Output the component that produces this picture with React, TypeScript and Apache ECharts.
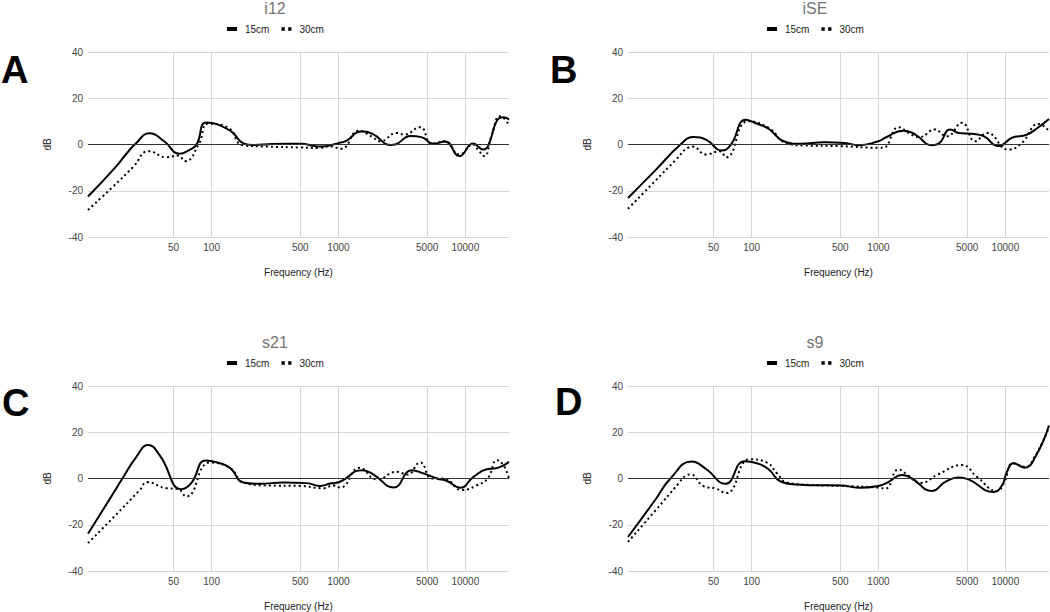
import React, { useEffect, useRef } from "react";
import * as echarts from "echarts";

// ---------- data ----------
const PANEL_TITLES = ["i12", "iSE", "s21", "s9"];
const PANEL_LETTERS = ["A", "B", "C", "D"];
const SERIES_NAMES = ["15cm", "30cm"];
const X_TICKS_HZ = [50, 100, 500, 1000, 5000, 10000];
const X_MIN_HZ = 10.6;
const X_MAX_HZ = 22100;
const Y_MIN = -40;
const Y_MAX = 40;
const Y_STEP = 20;

// i12
const i12_15_hz = [10.6, 16.7, 21.3, 24.8, 32.6, 42, 56, 66, 76, 91, 140, 178, 213, 300, 400, 500, 716, 1000, 1160, 1500, 1850, 2600, 2800, 3700, 4500, 5620, 6920, 9000, 11500, 13900, 15200, 17700, 19800, 22100];
const i12_15_db = [-22.5, -11, -4, 0, 4.9, 1.5, -4, -2.5, 0, 9.5, 6, 0.5, -0.2, 0.2, 0.3, 0.3, -0.9, 0.6, 1.7, 5.6, 4.6, -0.2, 0, 3.7, 3.2, 0.3, 1.3, -5, 0.4, -2.2, -0.4, 10.2, 11.8, 10.9];
const i12_30_hz = [10.6, 16.7, 24, 32, 44, 54, 62, 79, 94, 133, 178, 275, 500, 700, 850, 1050, 1450, 1850, 2130, 2890, 3300, 4400, 5440, 6900, 9000, 11500, 12700, 14100, 16200, 18800, 22100];
const i12_30_db = [-28.3, -18.2, -9.8, -2.9, -5.5, -4.8, -7.2, 0, 9, 7.5, -0.4, -0.9, -1.3, -1.5, -0.8, -1.8, 6, 3.2, 1.4, 5, 4.3, 7.5, 0.3, 1.4, -4.3, 0, -2.6, -5, 4.3, 12.2, 8.6];

// iSE
const iSE_15_hz = [10.6, 17.4, 27.5, 35, 44, 58, 68, 90, 108, 136, 179, 244, 374, 541, 692, 1000, 1130, 1575, 1950, 2640, 3000, 3680, 4280, 5460, 6740, 8850, 11300, 14800, 18300, 22100];
const iSE_15_db = [-23.1, -11.2, 0, 3.2, 2, -2.6, -0.4, 10.7, 9.2, 6.8, 1.4, 0.3, 1, 0.7, -0.3, 1.4, 2.9, 6, 4.3, -0.3, 0.5, 6.5, 5, 4.6, 3.6, -0.7, 2.9, 4.3, 7.5, 11];
const iSE_30_hz = [10.6, 17.4, 25, 32, 34, 44, 56, 63, 94, 136, 188, 255, 500, 1000, 1090, 1440, 1730, 2100, 2800, 3200, 3470, 4550, 5800, 7170, 10600, 13500, 18300, 22100];
const iSE_30_db = [-27.8, -15.7, -6.9, -1.2, -0.9, -4.3, -2.9, -5.5, 10.1, 7.2, 0.6, -0.4, -0.7, -1.4, -1.4, 7.5, 5, 3.2, 6.5, 4.3, 3.6, 9.4, 1.4, 5, -2.2, 0.7, 8.9, 5.8];

// s21
const s21_15_hz = [10.6, 14.8, 19.8, 25.6, 31.6, 39, 58, 69, 90, 116, 140, 178, 241, 368, 562, 716, 860, 1030, 1530, 1890, 2720, 3790, 4690, 5980, 7170, 9120, 11600, 14800, 16700, 18900, 22100];
const s21_15_db = [-23.9, -11.2, 0, 9.5, 14.5, 10, -4.6, -2, 7.8, 6.6, 4.5, -1.7, -2.3, -1.7, -2, -3.2, -2.2, -1.4, 3.6, 1.7, -3.9, 3.6, 2.2, 0, -1.1, -4, 0.7, 4, 4.3, 5, 7.2];
const s21_30_hz = [10.6, 16.7, 27.2, 31, 44, 54, 63, 97, 140, 178, 272, 500, 760, 912, 1030, 1470, 2010, 2890, 3470, 4410, 5460, 6750, 9420, 12400, 15000, 17800, 20000, 22100];
const s21_30_db = [-27.9, -17, -4.9, -1.6, -4.2, -4.5, -7.8, 6.9, 4.5, -1.7, -3, -3.2, -4.2, -3, -3.9, 4.6, -0.4, 2.9, 1.7, 6.9, 0, 0, -5, -2.9, 0, 7.9, 5.7, 0];

// s9
const s9_15_hz = [10.6, 17.4, 22.9, 33.7, 44, 62, 88, 110, 136, 169, 229, 311, 509, 700, 1000, 1200, 1530, 1835, 2640, 3360, 4280, 5130, 8090, 9420, 10300, 11600, 14200, 17300, 22100];
const s9_15_db = [-25.3, -9.2, 0, 7.3, 4, -2.3, 7.5, 6.6, 4, -1.3, -2.6, -2.9, -3, -4, -3.2, -1.5, 1.5, 0, -5.4, -1.5, 0.4, -0.4, -5.8, -2.9, 2.9, 6.6, 4.7, 9.5, 22.9];
const s9_30_hz = [10.6, 17.4, 26.7, 30, 33, 42, 52, 63, 97, 132, 158, 190, 300, 500, 1000, 1130, 1440, 1700, 2140, 2980, 4550, 5980, 8590, 9700, 11600, 14200, 17300, 22100];
const s9_30_db = [-27.4, -13.9, -2, 1.1, 1.7, -3.4, -4.3, -6.3, 8.3, 6.9, 2.3, -1.7, -2.8, -3.2, -3.9, -4.4, 3.9, 1.5, -1.9, 1.9, 5.8, 0.7, -5.4, -2.2, 6.6, 5.1, 10, 22.3];

const PANEL_DATA = [
  [[i12_15_hz, i12_15_db], [i12_30_hz, i12_30_db]],
  [[iSE_15_hz, iSE_15_db], [iSE_30_hz, iSE_30_db]],
  [[s21_15_hz, s21_15_db], [s21_30_hz, s21_30_db]],
  [[s9_15_hz, s9_15_db], [s9_30_hz, s9_30_db]],
];

// ---------- layout ----------
const FONT = "'Liberation Sans', Arial, Helvetica, sans-serif";
const PANEL_ORIGINS = [
  [0, 0],
  [540, 0],
  [0, 334],
  [540, 334],
];
const LETTER_POS = [
  [1, 70],
  [10, 70],
  [2, 69],
  [15, 68],
];

const lg = (v: number) => Math.log10(v);

function buildOption() {
  const grid: any[] = [];
  const xAxis: any[] = [];
  const yAxis: any[] = [];
  const title: any[] = [];
  const legend: any[] = [];
  const series: any[] = [];
  const graphic: any[] = [];

  PANEL_TITLES.forEach((t, p) => {
    const [ox, oy] = PANEL_ORIGINS[p];
    grid.push({ left: 88 + ox, top: 52 + oy, width: 421, height: 185, containLabel: false });
    title.push({
      text: t,
      left: 275 + ox,
      top: oy,
      padding: 0,
      textAlign: "center",
      textStyle: { fontFamily: FONT, fontSize: 16, fontWeight: "normal", color: "#757575" },
    });
    legend.push({
      left: 227 + ox,
      top: 24 + oy,
      padding: 0,
      itemWidth: 10,
      itemHeight: 4,
      itemGap: 12,
      selectedMode: false,
      textStyle: { fontFamily: FONT, fontSize: 10, color: "#222", padding: [0, 0, 0, 3] },
      data: [
        { name: SERIES_NAMES[0], icon: "rect" },
        { name: SERIES_NAMES[1], icon: "path://M0,0H3V3H0Z M6,0H9V3H6Z" },
      ],
    });
    xAxis.push({
      type: "value",
      gridIndex: p,
      min: lg(X_MIN_HZ),
      max: lg(X_MAX_HZ),
      name: "Frequency (Hz)",
      nameLocation: "middle",
      nameGap: 30,
      nameTextStyle: { fontFamily: FONT, fontSize: 10, color: "#222" },
      axisLine: { show: false },
      axisTick: { show: false, customValues: X_TICKS_HZ.map(lg) },
      axisLabel: {
        customValues: X_TICKS_HZ.map(lg),
        formatter: (v: number) => String(Math.round(Math.pow(10, v))),
        fontFamily: FONT,
        fontSize: 10,
        color: "#444",
        margin: 5,
      },
      splitLine: { show: true, lineStyle: { color: "#d6d6d6", width: 1 } },
    });
    yAxis.push({
      type: "value",
      gridIndex: p,
      min: Y_MIN,
      max: Y_MAX,
      interval: Y_STEP,
      name: "dB",
      nameLocation: "middle",
      nameGap: 36,
      nameTextStyle: { fontFamily: FONT, fontSize: 10, color: "#222" },
      axisLine: { show: false },
      axisTick: { show: false },
      axisLabel: { fontFamily: FONT, fontSize: 10, color: "#444", margin: 5 },
      splitLine: { show: true, lineStyle: { color: "#d6d6d6", width: 1 } },
    });

    PANEL_DATA[p].forEach(([hz, db], s) => {
      const dotted = s === 1;
      series.push({
        type: "line",
        name: SERIES_NAMES[s],
        xAxisIndex: p,
        yAxisIndex: p,
        data: hz.map((f: number, i: number) => [lg(f), db[i]]),
        showSymbol: false,
        symbol: "none",
        smooth: 0.5,
        clip: true,
        silent: true,
        z: dotted ? 3 : 4,
        itemStyle: { color: "#000" },
        lineStyle: { color: "#000", width: 2, type: dotted ? [2, 3] : "solid" },
        markLine: dotted
          ? {
              silent: true,
              symbol: ["none", "none"],
              label: { show: false },
              lineStyle: { color: "#333", width: 1, type: "solid" },
              data: [{ yAxis: 0 }],
            }
          : undefined,
      });
    });

    const [lx, ly] = LETTER_POS[p];
    graphic.push({
      type: "text",
      x: lx + ox,
      y: ly + oy,
      style: {
        text: PANEL_LETTERS[p],
        fontFamily: FONT,
        fontSize: 38,
        fontWeight: "bold",
        fill: "#000",
        textVerticalAlign: "middle",
        verticalAlign: "middle",
      },
    });
  });

  return {
    animation: false,
    backgroundColor: "#fff",
    grid,
    xAxis,
    yAxis,
    title,
    legend,
    series,
    graphic,
  };
}

export default function App() {
  const ref = useRef<HTMLDivElement>(null);
  useEffect(() => {
    if (!ref.current) return;
    const chart = echarts.init(ref.current, undefined, { renderer: "svg" });
    chart.setOption(buildOption() as any);
    return () => chart.dispose();
  }, []);
  return (
    <div
      ref={ref}
      style={{ position: "fixed", left: 0, top: 0, width: 1050, height: 612, background: "#fff" }}
    />
  );
}
